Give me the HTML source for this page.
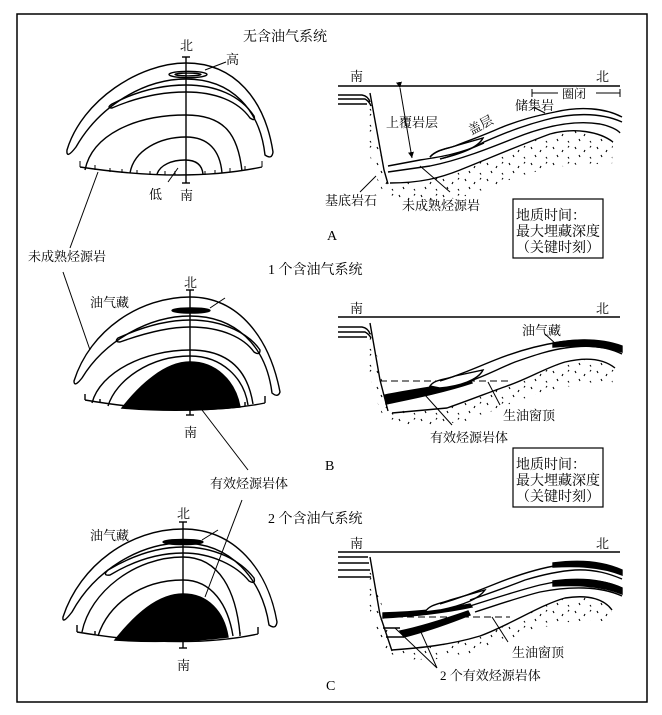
<!DOCTYPE html>
<html><head><meta charset="utf-8"><style>
html,body{margin:0;padding:0;background:#fff;}
svg{display:block;}
text{font-family:"Liberation Serif","Noto Serif CJK SC",serif;fill:#000;}
.s{font-family:"Liberation Serif","Noto Serif CJK SC",serif;}
</style></head><body>
<svg width="662" height="715" viewBox="0 0 662 715" xmlns="http://www.w3.org/2000/svg">
<defs>
<pattern id="dots" width="22" height="16" patternUnits="userSpaceOnUse">
<path d="M3,3 l1,2 M13,6 l-1,2 M7,11 l1,2 M18,13 l1,1.5 M19,2 l-1,1.5" stroke="#000" stroke-width="1.1" fill="none"/>
</pattern>
<marker id="ar" markerWidth="8" markerHeight="8" refX="6" refY="3" orient="auto"><path d="M0,0 L6,3 L0,6 Z" fill="#000"/></marker>
</defs>
<rect x="17" y="14" width="630" height="688" fill="none" stroke="#000" stroke-width="1.5"/>
<g fill="none" stroke="#000" stroke-width="1.4">
<!-- ===== Panel A left ===== -->
<line x1="186" y1="57" x2="186" y2="183"/><line x1="182" y1="57" x2="190" y2="57"/><line x1="182" y1="183" x2="190" y2="183"/>
<path d="M67,150 C82,100 140,63 186,63 C235,63 265,100 273,152 Q272,160 265,155 C260,110 232,79 186,79 C145,79 100,105 76,147 Q66,160 67,150 Z"/>
<path d="M112,104 C135,92 160,85 186,85 C215,85 240,95 254,116 Q256,122 250,118 C238,101 215,92 186,92 C160,92 135,98 112,108 Q106,108 112,104 Z"/>
<ellipse cx="188" cy="74.5" rx="19" ry="3.2"/><ellipse cx="188" cy="74.5" rx="13" ry="1.4"/>
<path d="M85,170 C92,135 135,115 186,115 C225,115 238,135 242,171"/>
<path d="M130,173 C134,150 160,137 186,137 C208,137 220,150 222,173"/>
<path d="M157,174 C160,165 172,160 185,160 C196,160 202,165 203,174"/>
<path d="M80,167 Q186,183 262,167"/>
<path d="M80,167 v-6 M262,167 v-6 M95,170 v-5 M110,172 v-4 M122,173 v-4 M137,174 v-4 M150,175 v-4 M165,175 v-4 M175,175 v-4 M205,175 v-4 M215,174 v-4 M230,172 v-4 M245,170 v-4" stroke-width="1"/>
<path d="M205,70 L226,62" stroke-width="1"/>
<path d="M178,168 L168,182" stroke-width="1"/>
<path d="M98,172 L70,248" stroke-width="1"/>
<path d="M63,272 L90,350" stroke-width="1"/>
<!-- ===== Panel A right ===== -->
<line x1="338" y1="86" x2="620" y2="86"/>
<path d="M532,93 H558 M596,93 H620 M532,89 v8 M620,89 v8" stroke-width="1"/>
<path d="M338,95 H362 Q368,96 370,102 M338,99 H365 Q369,101 371,106 M338,104 H367"/>
<path d="M370,93 L384,170 L388,184"/>
<path d="M430,157 C436,150 446,149 455,146 C470,140 482,136 500,128 C520,120 535,116 555,112 C580,106 605,108 622,117"/>
<path d="M440,159 C455,155 470,150 484,142 C505,133 522,126 545,120 C570,113 600,112 622,122"/>
<path d="M430,157 C436,150 446,149 455,146 L483,138 C478,148 460,154 440,159"/>
<path d="M388,166 L420,160 C440,157 460,154 484,143"/>
<path d="M388,172 L430,166 C460,160 490,148 515,138 C545,126 575,120 600,124 C610,126 618,130 620,133"/>
<path d="M390,183 C420,183 440,178 460,170 C490,158 520,145 550,134 C575,127 600,132 613,142"/>
<path d="M370,100 L388,184 C420,183 440,178 460,170 C490,158 520,145 550,134 C575,127 600,132 613,142 L612,165 C560,160 520,175 470,195 C430,205 400,200 385,195 C370,170 362,130 370,100 Z" fill="url(#dots)" stroke="none"/>
<path d="M400,88 L412,158" stroke-width="1" marker-start="url(#ar)" marker-end="url(#ar)"/>
<path d="M535,108 L545,113" stroke-width="1"/>
<path d="M360,192 L376,176" stroke-width="1"/>
<path d="M450,192 L420,166" stroke-width="1"/>
<rect x="513" y="199" width="90" height="59" stroke-width="1.2"/>
<!-- ===== Panel B left ===== -->
<line x1="190" y1="290" x2="190" y2="415"/><line x1="186" y1="290" x2="194" y2="290"/><line x1="186" y1="415" x2="194" y2="415"/>
<path d="M74,381 C90,330 140,297 190,297 C240,297 270,340 280,392 Q278,398 272,393 C266,345 235,316 190,316 C150,316 105,340 82,378 Q74,388 74,381 Z"/>
<path d="M118,338 C140,328 165,320 190,320 C225,320 250,335 260,350 Q260,356 254,352 C244,338 222,327 190,327 C168,327 145,333 120,342 Q114,342 118,338 Z"/>
<ellipse cx="191" cy="310.5" rx="19" ry="2.6" fill="#000"/>
<path d="M92,403 C100,372 145,350 190,350 C230,350 248,372 253,404"/>
<path d="M108,406 C116,380 150,356 190,356 C222,356 244,378 248,405"/>
<path d="M122,408 C140,385 165,362 190,362 C215,362 235,380 240,407 Q180,413 122,408 Z" fill="#000"/>
<path d="M85,400 Q190,418 265,403 M85,400 v-6 M265,403 v-7 M100,403 v-4 M245,406 v-4" />
<path d="M210,308 L225,298" stroke-width="1"/>
<path d="M202,410 L248,470" stroke-width="1"/>
<path d="M242,500 L205,597" stroke-width="1"/>
<!-- ===== Panel B right ===== -->
<line x1="338" y1="317" x2="620" y2="317"/>
<path d="M338,327 H362 Q368,328 370,334 M338,332 H365 Q369,334 371,338 M338,337 H367"/>
<path d="M370,323 L380,380 L388,411"/>
<path d="M380,381 H510" stroke-dasharray="7,4" stroke-width="1"/>
<path d="M385,395 C410,390 440,386 470,380 L472,383 C445,392 415,398 386,404 Z" fill="#000"/>
<path d="M430,386 C435,379 445,380 455,376 L483,370 C478,380 460,386 440,388 Z" fill="#fff"/>
<path d="M440,381 C460,375 475,368 495,360 C520,350 540,345 560,342 C585,338 605,340 622,348"/>
<path d="M470,381 C485,376 500,368 515,362 C535,355 550,350 565,348 C590,344 608,347 622,354"/>
<path d="M553,343 C575,339 600,338 622,346 L622,352 C600,345 575,345 553,347 Z" fill="#000"/>
<path d="M392,413 L447,408 C470,400 490,392 507,386 C530,378 545,368 565,362 C590,356 605,360 615,368"/>
<path d="M372,330 L388,411 L447,408 C470,400 490,392 507,386 C530,378 545,368 565,362 C590,356 605,360 615,368 L612,385 C560,380 520,400 470,420 C430,428 400,425 385,420 C370,390 362,350 372,330 Z" fill="url(#dots)" stroke="none"/>
<path d="M545,334 L557,345 M500,405 L488,382 M452,425 L425,395" stroke-width="1"/>
<rect x="513" y="448" width="90" height="59" stroke-width="1.2"/>
<!-- ===== Panel C left ===== -->
<line x1="183" y1="522" x2="183" y2="648"/><line x1="179" y1="522" x2="187" y2="522"/><line x1="179" y1="648" x2="187" y2="648"/>
<path d="M63,617 C80,565 130,529 183,529 C235,529 268,570 277,622 Q276,630 269,625 C262,578 230,543 183,543 C140,543 95,570 72,612 Q62,625 63,617 Z"/>
<path d="M108,570 C130,557 155,547 183,547 C215,547 240,560 254,578 Q256,585 249,581 C237,566 212,553 183,553 C160,553 135,560 110,575 Q102,576 108,570 Z"/>
<ellipse cx="183" cy="542" rx="20" ry="2.6" fill="#000"/>
<path d="M82,632 C90,592 135,557 183,557 C220,557 236,592 240,634"/>
<path d="M98,636 C108,605 140,580 183,580 C212,580 228,605 233,636"/>
<path d="M115,640 C135,615 158,594 183,594 C208,594 224,612 228,637 Q170,644 115,640 Z" fill="#000"/>
<path d="M77,632 Q183,650 258,634 M77,632 v-7 M258,634 v-7 M95,635 v-4 M240,636 v-4"/>
<path d="M202,540 L218,530" stroke-width="1"/>
<!-- ===== Panel C right ===== -->
<line x1="338" y1="552" x2="620" y2="552"/>
<path d="M338,557 H368 M338,563 H369 M338,570 H370 M338,577 H371"/>
<path d="M370,557 L380,615 L392,651"/>
<path d="M385,617 H510" stroke-dasharray="7,4" stroke-width="1"/>
<path d="M383,613 C410,612 440,610 470,604 L472,607 C440,614 410,616 383,618 Z" fill="#000"/>
<path d="M400,631 C420,627 445,619 468,611 L470,615 C445,625 420,633 404,637 Z" fill="#000"/>
<path d="M383,628 L400,628 M386,637 L404,637"/>
<path d="M392,650 C420,648 450,645 480,636 C510,625 540,605 565,598 C590,594 605,600 612,610"/>
<path d="M425,612 C430,604 440,604 450,600 L485,590 C478,600 460,606 440,610 Z" fill="#fff"/>
<path d="M440,604 C460,598 475,592 495,584 C520,574 540,568 560,565 C585,561 605,564 622,572"/>
<path d="M470,600 C490,593 510,586 525,580 C545,574 560,571 575,570 C595,569 610,574 622,579"/>
<path d="M553,563 C575,560 600,560 622,570 L622,575 C600,566 575,566 553,567 Z" fill="#000"/>
<path d="M470,606 C495,598 520,590 540,585 C570,578 600,578 622,588"/>
<path d="M475,612 C500,604 520,597 540,592 C570,586 600,586 622,596"/>
<path d="M553,581 C575,578 600,578 622,588 L622,594 C600,585 575,585 553,586 Z" fill="#000"/>
<path d="M372,562 L392,650 C420,648 450,645 480,636 C510,625 540,605 565,598 C590,594 605,600 612,610 L610,622 C560,615 520,635 470,655 C430,662 400,660 385,655 C370,620 362,590 372,562 Z" fill="url(#dots)" stroke="none"/>
<path d="M508,642 L492,617 M437,668 L395,628 M437,668 L420,630" stroke-width="1"/>
</g>
<!-- ===== Text ===== -->
<g font-size="13">
<text x="243" y="41" font-size="14">无含油气系统</text>
<text x="180" y="50">北</text>
<text x="226" y="64">高</text>
<text x="149" y="199">低</text>
<text x="180" y="200">南</text>
<text x="350" y="81">南</text>
<text x="596" y="81">北</text>
<text x="562" y="98" font-size="12">圈闭</text>
<text x="386" y="127">上覆岩层</text>
<text x="468" y="130" transform="rotate(-28 480 126)">盖层</text>
<text x="515" y="110">储集岩</text>
<text x="325" y="205">基底岩石</text>
<text x="402" y="210">未成熟烃源岩</text>
<text class="s" x="327" y="240" font-size="14">A</text>
<text x="516" y="220" font-size="14">地质时间：</text>
<text x="516" y="236" font-size="14">最大埋藏深度</text>
<text x="516" y="252" font-size="14">（关键时刻）</text>
<text x="28" y="261">未成熟烃源岩</text>
<text x="268" y="274" font-size="14">1 个含油气系统</text>
<text x="184" y="287">北</text>
<text x="90" y="307">油气藏</text>
<text x="184" y="437">南</text>
<text x="350" y="313">南</text>
<text x="596" y="313">北</text>
<text x="522" y="335">油气藏</text>
<text x="503" y="420">生油窗顶</text>
<text x="430" y="442">有效烃源岩体</text>
<text class="s" x="325" y="470" font-size="14">B</text>
<text x="516" y="469" font-size="14">地质时间：</text>
<text x="516" y="485" font-size="14">最大埋藏深度</text>
<text x="516" y="501" font-size="14">（关键时刻）</text>
<text x="210" y="488">有效烃源岩体</text>
<text x="268" y="523" font-size="14">2 个含油气系统</text>
<text x="177" y="518">北</text>
<text x="90" y="540">油气藏</text>
<text x="177" y="670">南</text>
<text x="350" y="548">南</text>
<text x="596" y="548">北</text>
<text x="512" y="657">生油窗顶</text>
<text x="440" y="680">2 个有效烃源岩体</text>
<text class="s" x="326" y="690" font-size="14">C</text>
</g>
</svg>
</body></html>
